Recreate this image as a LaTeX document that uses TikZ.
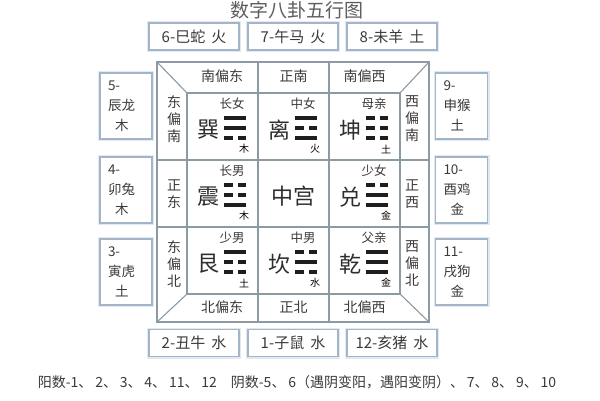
\documentclass[tikz,border=0pt]{standalone}
\usepackage{fontspec}
\setmainfont{Noto Sans CJK SC}
\definecolor{linec}{HTML}{8C9AA3}
\definecolor{boxc}{HTML}{A3B5C9}
\definecolor{glowc}{HTML}{E2E9F1}
\definecolor{txt}{HTML}{3A3A3A}
\definecolor{titlec}{HTML}{5E5E5E}
\definecolor{yaoc}{HTML}{1E1E1E}
\newcommand\yang[2]{\fill[yaoc] ({#1-11},{#2-1.7}) rectangle ({#1+11},{#2+1.7});}
\newcommand\yin[2]{\fill[yaoc] ({#1-11},{#2-1.7}) rectangle ({#1-2.5},{#2+1.7}); \fill[yaoc] ({#1+2.5},{#2-1.7}) rectangle ({#1+11},{#2+1.7});}
\newcommand\gua[9]{%
  \node[guach] (#3-c) at ({#1+21},{#2+37}) {#4};
  \node[gualab] (#3-l) at ({#1+45},{#2+11}) {#5};
  \node[guael] (#3-e) at ({#1+57},{#2+56}) {#6};
  #7{#1+48}{#2+25}
  #8{#1+48}{#2+35}
  #9{#1+48}{#2+45}
}
\newcommand\dn{、\hspace{2.8pt}}
\begin{document}
\begin{tikzpicture}[x=1pt,y=-1pt,
  grid/.style={draw=linec,line width=1.1pt},
  hbox/.style={draw=boxc,line width=1.2pt,fill=white,
    preaction={draw=glowc,line width=4pt},
    minimum width=90pt,minimum height=27pt,inner sep=0pt,
    text=txt,font=\fontsize{15}{17}\selectfont},
  vbox/.style={draw=boxc,line width=1.2pt,fill=white,
    preaction={draw=glowc,line width=4pt},
    minimum width=52pt,minimum height=66pt,inner sep=0pt,
    text width=36pt,align=left,
    text=txt,font=\fontsize{13.5}{20}\selectfont},
  band/.style={text=txt,inner sep=0pt,align=center,
    font=\fontsize{14}{17}\selectfont},
  guach/.style={text=txt!80!black,inner sep=0pt,font=\fontsize{22}{24}\selectfont},
  gualab/.style={text=txt,inner sep=0pt,font=\fontsize{12.5}{14}\selectfont},
  guael/.style={text=black,inner sep=0pt,font=\fontsize{10}{11}\selectfont},
]
\useasboundingbox (0,0) rectangle (600,400);
\fill[white] (0,0) rectangle (600,400);

% title
\node[text=titlec,inner sep=0pt,font=\fontsize{19}{21}\selectfont] (title) at (297,10) {数字八卦五行图};

% top boxes
\node[hbox] (b6) at (194,36.5) {6-巳蛇\hspace{6pt}火};
\node[hbox] (b7) at (293,36.5) {7-午马\hspace{6pt}火};
\node[hbox] (b8) at (392,36.5) {8-未羊\hspace{6pt}土};
% bottom boxes
\node[hbox] (b2) at (194,343) {2-丑牛\hspace{6pt}水};
\node[hbox] (b1) at (293,343) {1-子鼠\hspace{6pt}水};
\node[hbox] (b12) at (392,343) {12-亥猪\hspace{6pt}水};
% left boxes
\node[vbox] (b5) at (126,106) {5-\\辰龙\\\hspace*{7pt}木};
\node[vbox] (b4) at (126,190) {4-\\卯兔\\\hspace*{7pt}木};
\node[vbox] (b3) at (126,272) {3-\\寅虎\\\hspace*{7pt}土};
% right boxes
\node[vbox] (b9) at (461.5,106) {9-\\申猴\\\hspace*{7pt}土};
\node[vbox] (b10) at (461.5,190) {10-\\酉鸡\\\hspace*{7pt}金};
\node[vbox] (b11) at (461.5,272) {11-\\戌狗\\\hspace*{7pt}金};

% main frame
\coordinate (o1) at (157,62);
\coordinate (o2) at (429,62);
\coordinate (o3) at (429,322);
\coordinate (o4) at (157,322);
\coordinate (i1) at (187,93);
\coordinate (i2) at (400,93);
\coordinate (i3) at (400,294);
\coordinate (i4) at (187,294);
\draw[grid] (o1) -- (o2) -- (o3) -- (o4) -- cycle;
\draw[grid] (i1) -- (i2) -- (i3) -- (i4) -- cycle;
\draw[grid] (o1) -- (i1) (o2) -- (i2) (o3) -- (i3) (o4) -- (i4);
\draw[grid] (258,62) -- (258,322) (329,62) -- (329,322);
\draw[grid] (157,160) -- (429,160) (157,227) -- (429,227);

% band labels
\node[band] (s1) at (222,76) {南偏东};
\node[band] (s2) at (293.5,76) {正南};
\node[band] (s3) at (364.5,76) {南偏西};
\node[band] (n1) at (222,307) {北偏东};
\node[band] (n2) at (293.5,307) {正北};
\node[band] (n3) at (364.5,307) {北偏西};
\node[band] (e1) at (174,119) {东\\偏\\南};
\node[band] (e2) at (174,194) {正\\东};
\node[band] (e3) at (174,264) {东\\偏\\北};
\node[band] (w1) at (412,119) {西\\偏\\南};
\node[band] (w2) at (412,194) {正\\西};
\node[band] (w3) at (412,264) {西\\偏\\北};

% trigrams
\gua{187}{93}{xun}{巽}{长女}{木}{\yang}{\yang}{\yin}
\gua{258}{93}{li}{离}{中女}{火}{\yang}{\yin}{\yang}
\gua{329}{93}{kun}{坤}{母亲}{土}{\yin}{\yin}{\yin}
\gua{187}{160}{zhen}{震}{长男}{木}{\yin}{\yin}{\yang}
\gua{329}{160}{dui}{兑}{少女}{金}{\yin}{\yang}{\yang}
\gua{187}{227}{gen}{艮}{少男}{土}{\yang}{\yin}{\yin}
\gua{258}{227}{kan}{坎}{中男}{水}{\yin}{\yang}{\yin}
\gua{329}{227}{qian}{乾}{父亲}{金}{\yang}{\yang}{\yang}
\node[guach] (zg) at (293.5,196) {中宫};

% footnote
\node[text=txt,inner sep=0pt,font=\fontsize{14}{16}\selectfont] (note) at (297,382)
  {阳数-1\dn 2\dn 3\dn 4\dn 11\dn 12\hspace{14pt}阴数-5\dn 6（遇阴变阳，遇阳变阴）\dn 7\dn 8\dn 9\dn 10};
\end{tikzpicture}
\end{document}
